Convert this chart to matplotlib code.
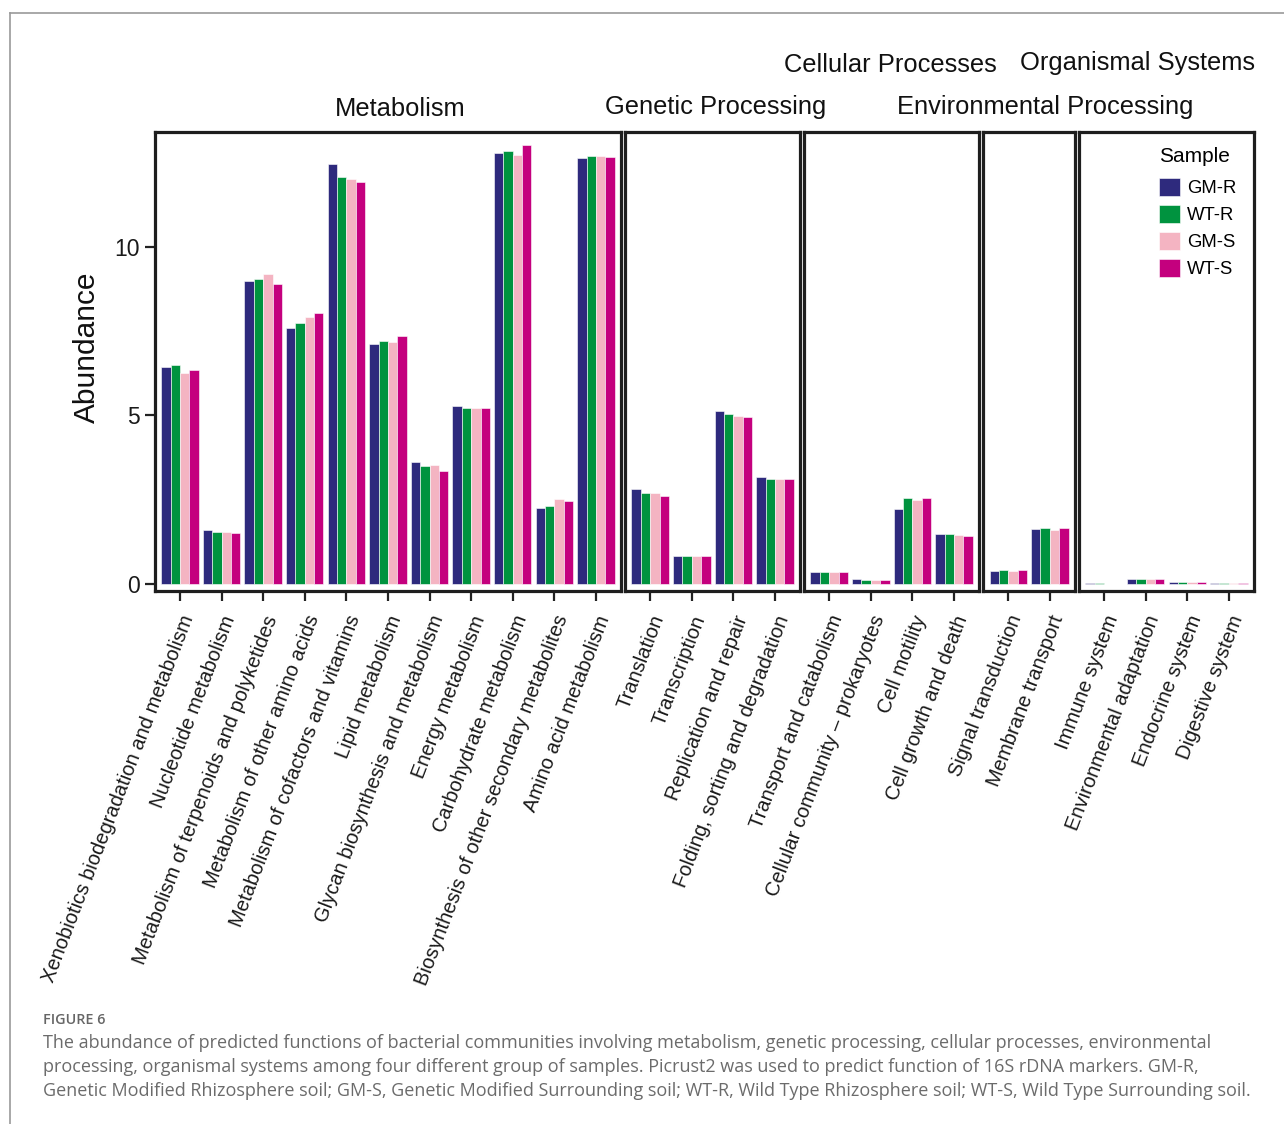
import matplotlib.pyplot as plt
from matplotlib.patches import Patch
from matplotlib.lines import Line2D
import numpy as np

plt.rcParams['font.family'] = ['Liberation Sans', 'DejaVu Sans']

# Daten: Kategorien je Gruppe
groups = ['Metabolism', 'Genetic Processing', 'Cellular Processes',
          'Environmental Processing', 'Organismal Systems']
group_cats = [
    ['Xenobiotics biodegradation and metabolism', 'Nucleotide metabolism',
     'Metabolism of terpenoids and polyketides', 'Metabolism of other amino acids',
     'Metabolism of cofactors and vitamins', 'Lipid metabolism',
     'Glycan biosynthesis and metabolism', 'Energy metabolism',
     'Carbohydrate metabolism', 'Biosynthesis of other secondary metabolites',
     'Amino acid metabolism'],
    ['Translation', 'Transcription', 'Replication and repair',
     'Folding, sorting and degradation'],
    ['Transport and catabolism', 'Cellular community \u2013 prokaryotes',
     'Cell motility', 'Cell growth and death'],
    ['Signal transduction', 'Membrane transport'],
    ['Immune system', 'Environmental adaptation', 'Endocrine system',
     'Digestive system'],
]

samples = ['GM-R', 'WT-R', 'GM-S', 'WT-S']
colors = ['#2e2a7d', '#00933f', '#f4b4c2', '#c4007e']

# Werte pro Probe, Reihenfolge wie oben
gm_r = [6.43, 1.60, 8.98, 7.58, 12.47, 7.13, 3.62, 5.28, 12.78, 2.26, 12.63,
        2.82, 0.84, 5.12, 3.17,
        0.34, 0.15, 2.22, 1.47,
        0.39, 1.63,
        0.02, 0.16, 0.06, 0.03]
wt_r = [6.49, 1.55, 9.04, 7.73, 12.07, 7.22, 3.49, 5.23, 12.84, 2.30, 12.70,
        2.69, 0.83, 5.03, 3.10,
        0.34, 0.12, 2.55, 1.48,
        0.41, 1.65,
        0.03, 0.16, 0.06, 0.03]
gm_s = [6.27, 1.54, 9.19, 7.91, 12.03, 7.19, 3.53, 5.22, 12.73, 2.51, 12.70,
        2.69, 0.83, 4.98, 3.10,
        0.34, 0.12, 2.49, 1.46,
        0.39, 1.59,
        0.005, 0.16, 0.06, 0.03]
wt_s = [6.35, 1.52, 8.91, 8.04, 11.93, 7.36, 3.34, 5.22, 13.03, 2.45, 12.68,
        2.61, 0.83, 4.96, 3.10,
        0.35, 0.12, 2.54, 1.43,
        0.42, 1.65,
        0.01, 0.16, 0.06, 0.03]
values = [gm_r, wt_r, gm_s, wt_s]

# Gruppentitel (Pixelpositionen der Beschriftung)
strip_pos = [(400, 109), (716, 107), (890, 65), (1045, 107), (1137, 63)]

W, H = 1284, 1124
fig = plt.figure(figsize=(W / 100, H / 100), dpi=100)

def fx(x):
    return x / W

def fy(y):
    return 1 - y / H

unit = 41.6
gap = 4.3
left = 155
top, bottom = 132, 591
bw = 0.225
offsets = [-1.5 * bw, -0.5 * bw, 0.5 * bw, 1.5 * bw]

start = 0
x0 = left
axes = []
for gi, cats in enumerate(group_cats):
    n = len(cats)
    width = (n + 0.2) * unit
    ax = fig.add_axes([fx(x0), fy(bottom), width / W, (bottom - top) / H])
    xs = np.arange(n)
    for si in range(4):
        ax.bar(xs + offsets[si], values[si][start:start + n], width=bw,
               color=colors[si], edgecolor='white', linewidth=0.4)
    ax.set_xlim(-0.6, n - 0.4)
    ax.set_ylim(-0.21, 13.41)
    ax.set_xticks(xs)
    ax.set_xticklabels(cats, rotation=69, ha='right', va='top',
                       rotation_mode='anchor', fontsize=14.5, color='#1a1a1a')
    ax.tick_params(axis='x', direction='out', length=7, width=1.6,
                   color='#222222', pad=8.5)
    for s in ax.spines.values():
        s.set_linewidth(2.3)
        s.set_color('#1e1e1e')
    if gi == 0:
        ax.set_yticks([0, 5, 10])
        ax.tick_params(axis='y', direction='out', length=7, width=1.6,
                       color='#222222', labelsize=16.5, labelcolor='#1a1a1a', pad=4)
        ax.set_ylabel('Abundance', fontsize=21.5, color='#111111')
        ax.yaxis.set_label_coords(-0.117, 0.532)
    else:
        ax.set_yticks([])
    axes.append(ax)
    fig.text(fx(strip_pos[gi][0]), fy(strip_pos[gi][1]), groups[gi],
             ha='center', va='center', fontsize=18.4, color='#111111')
    start += n
    x0 += width + gap

# Legende
handles = [Patch(facecolor=c, edgecolor='white', linewidth=0.4) for c in colors]
leg = fig.legend(handles, samples, title='Sample', loc='upper left',
                 bbox_to_anchor=(fx(1152), fy(140)), frameon=False,
                 fontsize=13.3, title_fontsize=15, handlelength=1.1,
                 handleheight=1.1, handletextpad=0.4, labelspacing=0.42,
                 alignment='left', borderaxespad=0)
leg._legend_box.sep = 8.6

# Rahmen der Seite
fig.add_artist(Line2D([fx(10), fx(1284)], [fy(13), fy(13)], color='#9a9a9a', lw=1.2))
fig.add_artist(Line2D([fx(10), fx(10)], [fy(13), fy(1124)], color='#9a9a9a', lw=1.2))

# Bildunterschrift
fig.text(fx(43), fy(1020), 'FIGURE 6', fontsize=10.4, color='#666666',
         family='Open Sans', fontweight='semibold', va='center')
caption = [
    'The abundance of predicted functions of bacterial communities involving metabolism, genetic processing, cellular processes, environmental',
    'processing, organismal systems among four different group of samples. Picrust2 was used to predict function of 16S rDNA markers. GM-R,',
    'Genetic Modified Rhizosphere soil; GM-S, Genetic Modified Surrounding soil; WT-R, Wild Type Rhizosphere soil; WT-S, Wild Type Surrounding soil.',
]
for i, line in enumerate(caption):
    fig.text(fx(43), fy(1043 + 24 * i), line, fontsize=13.0, color='#6b6b6b',
             family='Open Sans', va='center')

fig.savefig('out.png', dpi=100, facecolor='white')
